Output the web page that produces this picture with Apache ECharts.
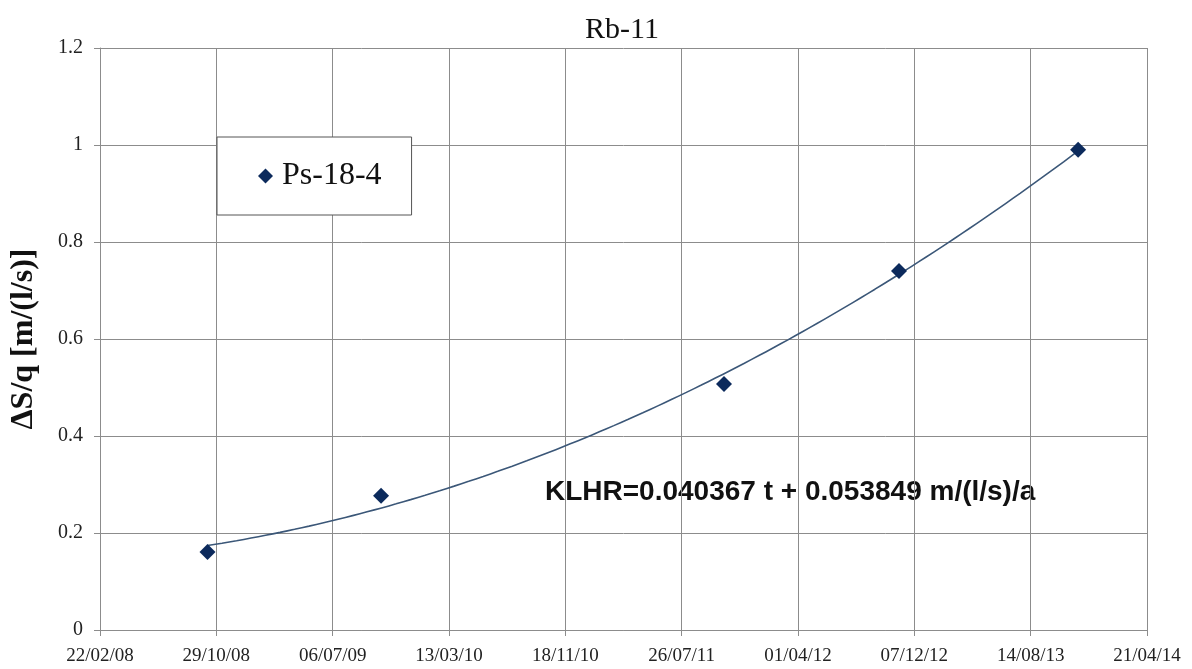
<!DOCTYPE html>
<html>
<head>
<meta charset="utf-8">
<script src="https://cdn.jsdelivr.net/npm/echarts@6/dist/echarts.min.js"></script>
<style>html,body{margin:0;padding:0;background:#fff;}#c{width:1192px;height:669px;}</style>
</head>
<body>
<div id="c"></div>
<script>
// ---- data ----
var chartTitle = 'Rb-11';
var seriesName = 'Ps-18-4';
var dates = ['2008-10-10', '2009-10-18', '2011-10-25', '2012-11-04', '2013-11-24'];
var values = [0.161, 0.277, 0.507, 0.740, 0.990];
var yTicks = [0, 0.2, 0.4, 0.6, 0.8, 1, 1.2];
var xTickStart = '2008-02-22';
var xTickEnd = '2014-04-21';
var xTickStepDays = 250;
var yAxisTitle = 'ΔS/q [m/(l/s)]';
var annotation = 'KLHR=0.040367 t + 0.053849 m/(l/s)/a';

// ---- helpers: Excel-style serial day numbers ----
var DAY = 86400000;
function toSerial(s) { return Math.round(Date.parse(s + 'T00:00:00Z') / DAY) + 25569; }
function fromSerial(n) { return new Date((n - 25569) * DAY); }
function pad(v) { return (v < 10 ? '0' : '') + v; }
function fmt(n) {
  var d = fromSerial(n);
  return pad(d.getUTCDate()) + '/' + pad(d.getUTCMonth() + 1) + '/' + pad(d.getUTCFullYear() % 100);
}
var xs = dates.map(toSerial);
var pts = xs.map(function (x, i) { return [x, values[i]]; });

// polynomial (order 2) least-squares trendline from the data, like the spreadsheet trendline
function quadFit(px, py) {
  var x0 = px[0], s = [0, 0, 0, 0, 0], t = [0, 0, 0];
  for (var i = 0; i < px.length; i++) {
    var u = (px[i] - x0) / 1000, p = 1;
    for (var k = 0; k < 5; k++) { s[k] += p; if (k < 3) t[k] += p * py[i]; p *= u; }
  }
  var M = [[s[0], s[1], s[2], t[0]], [s[1], s[2], s[3], t[1]], [s[2], s[3], s[4], t[2]]];
  for (var c = 0; c < 3; c++) {
    for (var r = c + 1; r < 3; r++) {
      var f = M[r][c] / M[c][c];
      for (var k2 = c; k2 < 4; k2++) M[r][k2] -= f * M[c][k2];
    }
  }
  var a = [0, 0, 0];
  for (var r2 = 2; r2 >= 0; r2--) {
    var sum = M[r2][3];
    for (var k3 = r2 + 1; k3 < 3; k3++) sum -= M[r2][k3] * a[k3];
    a[r2] = sum / M[r2][r2];
  }
  return function (x) { var u = (x - x0) / 1000; return a[0] + a[1] * u + a[2] * u * u; };
}
var fit = quadFit(xs, values);
var trend = [];
for (var i = 0; i <= 60; i++) {
  var x = xs[0] + (xs[xs.length - 1] - xs[0]) * i / 60;
  trend.push([x, fit(x)]);
}

var chart = echarts.init(document.getElementById('c'), null, { renderer: 'canvas' });
var serif = '"Liberation Serif", "Times New Roman", serif';
var gridColor = '#8c8c8c';
chart.setOption({
  backgroundColor: '#fff',
  animation: false,
  title: {
    text: chartTitle, left: 617, top: 10, textAlign: 'center',
    textStyle: { fontFamily: serif, fontSize: 30, fontWeight: 'normal', color: '#111' }
  },
  legend: {
    data: [{ name: seriesName, icon: 'diamond', itemStyle: { opacity: 1, color: '#0c2a5c' } }],
    left: 217, top: 137,
    padding: [23, 30, 23, 41],
    itemWidth: 15, itemHeight: 15, itemGap: 0,
    borderColor: '#555', borderWidth: 1, backgroundColor: '#fff',
    textStyle: { fontFamily: serif, fontSize: 32, color: '#111', padding: [0, 0, 0, 4] }
  },
  grid: { left: 100, right: 45, top: 48, bottom: 39, containLabel: false },
  xAxis: {
    type: 'value',
    min: toSerial(xTickStart), max: toSerial(xTickEnd), interval: xTickStepDays,
    axisLine: { show: true, lineStyle: { color: gridColor, width: 1 } },
    axisTick: { show: true, length: 6, lineStyle: { color: gridColor } },
    splitLine: { show: true, lineStyle: { color: gridColor, width: 1 } },
    axisLabel: { formatter: fmt, fontFamily: serif, fontSize: 19, color: '#222', margin: 17 }
  },
  yAxis: {
    type: 'value', min: yTicks[0], max: yTicks[yTicks.length - 1], interval: 0.2,
    name: yAxisTitle, nameLocation: 'middle', nameGap: 60, nameRotate: 90,
    nameTextStyle: { fontFamily: serif, fontSize: 32, fontWeight: 'bold', color: '#111' },
    axisLine: { show: true, lineStyle: { color: gridColor, width: 1 } },
    axisTick: { show: true, length: 6, lineStyle: { color: gridColor } },
    splitLine: { show: true, lineStyle: { color: gridColor, width: 1 } },
    axisLabel: {
      fontFamily: serif, fontSize: 20, color: '#222', margin: 17,
      formatter: function (v) { return String(Math.round(v * 10) / 10); }
    }
  },
  series: [
    {
      name: 'trend', type: 'line', data: trend, showSymbol: false, smooth: true,
      lineStyle: { color: '#3b5778', width: 1.6 }, silent: true, z: 2
    },
    {
      name: seriesName, type: 'scatter', data: pts, symbol: 'diamond', symbolSize: 16,
      itemStyle: { color: '#0c2a5c', opacity: 1 }, z: 3
    }
  ],
  graphic: [{
    type: 'text', left: 545, top: 478,
    style: { text: annotation, font: 'bold 28px "Liberation Sans", Arial, sans-serif', fill: '#111' }
  }]
});
</script>
</body>
</html>
